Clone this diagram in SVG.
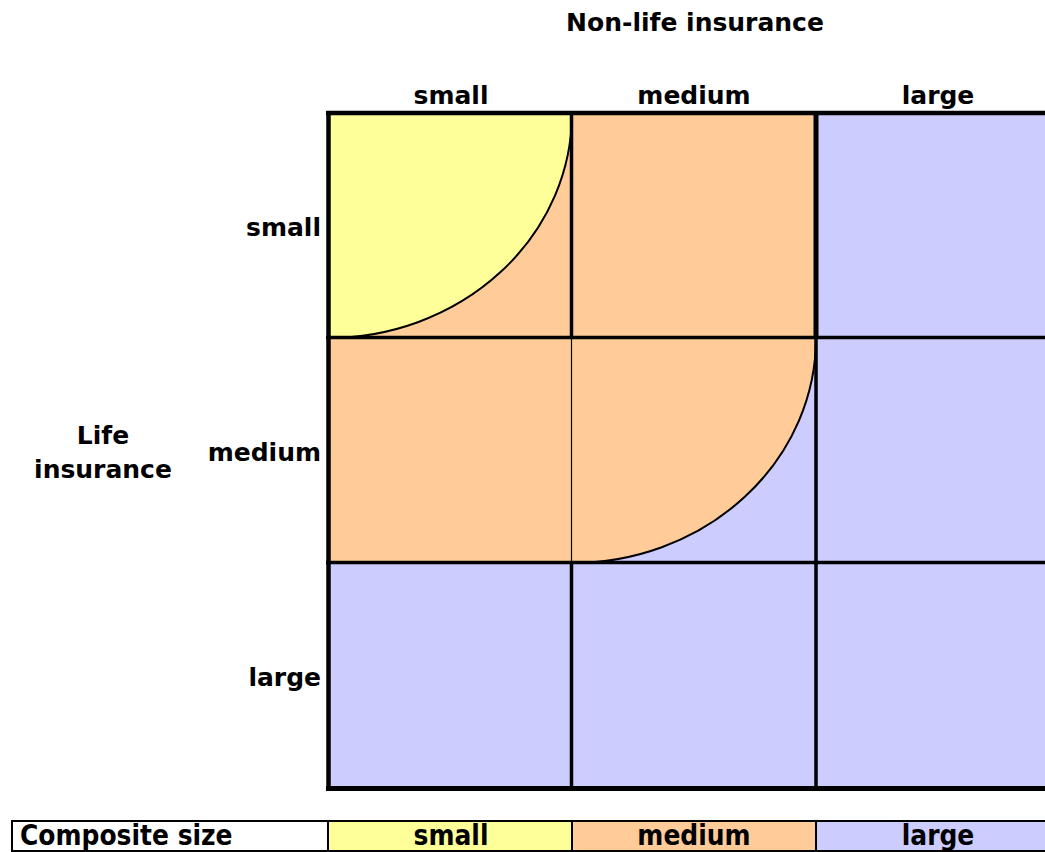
<svg xmlns="http://www.w3.org/2000/svg" width="1045" height="852" viewBox="0 0 1045 852">
<style>
.t{font-family:"DejaVu Sans","Verdana",sans-serif;font-weight:bold;font-size:25px;fill:#000}
.m{text-anchor:middle}
.e{text-anchor:end}
.y{fill:#FFFF99}
.o{fill:#FFCC99}
.b{fill:#CCCCFF}
.ln{stroke:#000;fill:none}
</style>
<rect width="1045" height="852" fill="#fff"/>
<text class="t m" x="695" y="31">Non-life insurance</text>
<g id="col-headers">
<text class="t m" x="451" y="104">small</text>
<text class="t m" x="694" y="104">medium</text>
<text class="t m" x="938" y="104">large</text>
</g>
<g id="row-headers">
<text class="t e" x="321" y="236">small</text>
<text class="t e" x="321" y="461">medium</text>
<text class="t e" x="321" y="686">large</text>
<text class="t m" x="103" y="444">Life</text>
<text class="t m" x="103" y="478">insurance</text>
</g>
<g id="cells">
<rect id="c00" class="o" x="328" y="113" width="244" height="225"/>
<rect id="c01" class="o" x="572" y="113" width="244" height="225"/>
<rect id="c02" class="b" x="816" y="113" width="229" height="225"/>
<rect id="c10" class="o" x="328" y="338" width="244" height="225"/>
<rect id="c11" class="b" x="572" y="338" width="244" height="225"/>
<rect id="c12" class="b" x="816" y="338" width="229" height="225"/>
<rect id="c20" class="b" x="328" y="563" width="244" height="225"/>
<rect id="c21" class="b" x="572" y="563" width="244" height="225"/>
<rect id="c22" class="b" x="816" y="563" width="229" height="225"/>
</g>
<g id="quarter-small">
<path class="y" d="M328,113 L572,113 A244,225 0 0 1 328,338 Z"/>
<path class="ln" stroke-width="2" d="M572,113 A244,225 0 0 1 328,338"/>
</g>
<g id="quarter-medium">
<path class="o" d="M572,338 L816,338 A244,225 0 0 1 572,563 Z"/>
<path class="ln" stroke-width="2" d="M816,338 A244,225 0 0 1 572,563"/>
</g>
<g id="grid" class="ln">
<line x1="326" y1="113" x2="1045" y2="113" stroke-width="4.5"/>
<line x1="326" y1="337.5" x2="1045" y2="337.5" stroke-width="3.5"/>
<line x1="326" y1="562.5" x2="1045" y2="562.5" stroke-width="3.5"/>
<line x1="326" y1="788.5" x2="1045" y2="788.5" stroke-width="5"/>
<line x1="328.5" y1="111" x2="328.5" y2="791" stroke-width="4.5"/>
<line x1="571.5" y1="113" x2="571.5" y2="338" stroke-width="3.5"/>
<line x1="571.5" y1="338" x2="571.5" y2="563" stroke-width="1.2"/>
<line x1="571.5" y1="563" x2="571.5" y2="788" stroke-width="3.5"/>
<line x1="816" y1="113" x2="816" y2="338" stroke-width="5"/>
<line x1="816" y1="338" x2="816" y2="788" stroke-width="3.5"/>
</g>
<g id="legend">
<rect x="12" y="821" width="316" height="31" fill="#fff"/>
<rect class="y" x="328" y="821" width="244" height="31"/>
<rect class="o" x="572" y="821" width="244" height="31"/>
<rect class="b" x="816" y="821" width="229" height="31"/>
<g class="ln" stroke-width="2">
<line x1="11" y1="821" x2="1045" y2="821"/>
<line x1="11" y1="851" x2="1045" y2="851"/>
<line x1="12" y1="821" x2="12" y2="852"/>
<line x1="328" y1="821" x2="328" y2="852"/>
<line x1="572" y1="821" x2="572" y2="852"/>
<line x1="816" y1="821" x2="816" y2="852"/>
</g>
<text class="t" transform="translate(20,845) scale(1,1.12)">Composite size</text>
<text class="t m" transform="translate(451,845) scale(1,1.12)">small</text>
<text class="t m" transform="translate(694,845) scale(1,1.12)">medium</text>
<text class="t m" transform="translate(938,845) scale(1,1.12)">large</text>
</g>
</svg>
